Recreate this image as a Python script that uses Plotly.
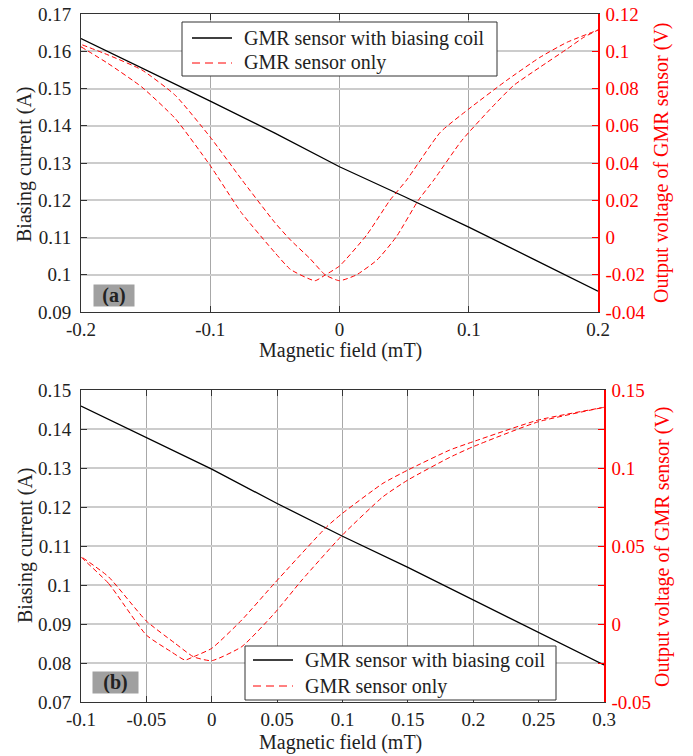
import plotly.graph_objects as go

# ---------------- Panel (a) data ----------------
a_black_x = [-0.2, -0.15, -0.1, -0.05, 0.0, 0.05, 0.1, 0.15, 0.2]
a_black_y = [0.1634, 0.1551, 0.1466, 0.1380, 0.1290, 0.1210, 0.1128, 0.1042, 0.0956]

# branch with minimum near -0.02 mT
a_redL_x = [-0.2, -0.179, -0.153, -0.127, -0.100, -0.076, -0.050, -0.038, -0.019, -0.011,
            0.0, 0.021, 0.039, 0.052, 0.078, 0.100, 0.129, 0.155, 0.176, 0.2]
a_redL_y = [0.1024, 0.0934, 0.0808, 0.0638, 0.0386, 0.0134, -0.0081, -0.0171, -0.0232, -0.0201,
            -0.0153, 0.0013, 0.0200, 0.0309, 0.0565, 0.0690, 0.0842, 0.0967, 0.1048, 0.1114]
# branch with minimum near 0 mT
a_redR_x = [-0.2, -0.179, -0.153, -0.127, -0.100, -0.076, -0.050, -0.038, -0.023, -0.011,
            0.0, 0.013, 0.029, 0.044, 0.061, 0.073, 0.0945, 0.116, 0.1345, 0.155, 0.176, 0.189, 0.2]
a_redR_y = [0.1037, 0.0980, 0.0900, 0.0763, 0.0539, 0.0314, 0.0080, -0.0013, -0.0112, -0.0201,
            -0.0232, -0.0201, -0.0121, 0.0004, 0.0200, 0.0309, 0.0520, 0.0685, 0.0815, 0.0914, 0.1012, 0.1075, 0.1114]

# ---------------- Panel (b) data ----------------
b_black_x = [-0.1, -0.08, -0.05, 0.0, 0.05, 0.1, 0.15, 0.2, 0.25, 0.3]
b_black_y = [0.1459, 0.1427, 0.1379, 0.1297, 0.1209, 0.1125, 0.1045, 0.0962, 0.0878, 0.0795]

b_redL_x = [-0.1, -0.079, -0.05, -0.031, -0.0205, -0.014, 0.0, 0.023, 0.048, 0.088, 0.1, 0.131, 0.15, 0.182, 0.2, 0.25, 0.3]
b_redL_y = [0.0431, 0.0261, -0.0071, -0.0178, -0.0231, -0.0210, -0.0156, 0.0026, 0.0261, 0.0624, 0.0710, 0.0902, 0.0987, 0.1115, 0.1169, 0.1308, 0.1389]
b_redR_x = [-0.1, -0.079, -0.05, -0.028, -0.014, 0.0, 0.023, 0.048, 0.069, 0.1, 0.131, 0.15, 0.182, 0.2, 0.25, 0.3]
b_redR_y = [0.0431, 0.0303, 0.0019, -0.0124, -0.0210, -0.0235, -0.0145, 0.0069, 0.0282, 0.0571, 0.0816, 0.0923, 0.1068, 0.1137, 0.1297, 0.1389]

# ---------------- tick labels ----------------
a_xticks = [-0.2, -0.1, 0.0, 0.1, 0.2]
a_xtext = ["-0.2", "-0.1", "0", "0.1", "0.2"]
a_yticks = [0.09, 0.10, 0.11, 0.12, 0.13, 0.14, 0.15, 0.16, 0.17]
a_ytext = ["0.09", "0.1", "0.11", "0.12", "0.13", "0.14", "0.15", "0.16", "0.17"]
a_y2ticks = [-0.04, -0.02, 0.0, 0.02, 0.04, 0.06, 0.08, 0.10, 0.12]
a_y2text = ["-0.04", "-0.02", "0", "0.02", "0.04", "0.06", "0.08", "0.1", "0.12"]

b_xticks = [-0.1, -0.05, 0.0, 0.05, 0.1, 0.15, 0.2, 0.25, 0.3]
b_xtext = ["-0.1", "-0.05", "0", "0.05", "0.1", "0.15", "0.2", "0.25", "0.3"]
b_yticks = [0.07, 0.08, 0.09, 0.10, 0.11, 0.12, 0.13, 0.14, 0.15]
b_ytext = ["0.07", "0.08", "0.09", "0.1", "0.11", "0.12", "0.13", "0.14", "0.15"]
b_y2ticks = [-0.05, -0.025, 0.0, 0.025, 0.05, 0.075, 0.10, 0.125, 0.15]
b_y2text = ["-0.05", "", "0", "", "0.05", "", "0.1", "", "0.15"]

series_names = ["GMR sensor with biasing coil", "GMR sensor only"]

FONT = "Liberation Serif"
FS = 19        # tick labels
FS_T = 20      # titles / legend
RED = "#ff0000"
DASH = "5px,3px"

# page body has an 8px margin -> figure occupies the rest of the 693x756 window
OFF = 8
W, H = 693 - OFF, 756 - OFF
def px(v):
    return (v - OFF) / W
def py(v):
    return 1 - (v - OFF) / H

fig = go.Figure()

red_line = dict(color=RED, width=1, dash=DASH, shape="spline", smoothing=0.5)

# Panel (a)
fig.add_trace(go.Scatter(x=a_black_x, y=a_black_y, mode="lines", name=series_names[0],
                         line=dict(color="black", width=1.3), xaxis="x", yaxis="y"))
fig.add_trace(go.Scatter(x=a_redL_x + a_redR_x[::-1], y=a_redL_y + a_redR_y[::-1], mode="lines",
                         name=series_names[1], line=red_line, xaxis="x", yaxis="y2"))
# Panel (b)
fig.add_trace(go.Scatter(x=b_black_x, y=b_black_y, mode="lines", name=series_names[0],
                         line=dict(color="black", width=1.3), xaxis="x2", yaxis="y3"))
fig.add_trace(go.Scatter(x=b_redL_x + b_redR_x[::-1], y=b_redL_y + b_redR_y[::-1], mode="lines",
                         name=series_names[1], line=red_line, xaxis="x2", yaxis="y4"))

tickfont = dict(family=FONT, size=FS, color="#222222")
xgrid = "#a8a8a8"
ygrid = "#cccccc"

def xax(dom, rng, tv, tt, anchor):
    return dict(domain=dom, range=rng, tickvals=tv, ticktext=tt, anchor=anchor, automargin=False,
                showline=True, linecolor="#333333", linewidth=1, mirror="ticks",
                ticks="inside", ticklen=6, tickcolor="#333333", ticklabelstandoff=0,
                ticklabeloverflow="allow",
                showgrid=True, gridcolor=xgrid, gridwidth=1, zeroline=False,
                tickfont=tickfont)

def yax(dom, rng, tv, tt, anchor):
    return dict(domain=dom, range=rng, tickvals=tv, ticktext=tt, anchor=anchor, automargin=False,
                showline=True, linecolor="#333333", linewidth=1, mirror=False,
                ticks="inside", ticklen=6, tickcolor="#333333", ticklabelstandoff=5,
                ticklabeloverflow="allow",
                showgrid=True, gridcolor=ygrid, gridwidth=1.5, zeroline=False,
                tickfont=tickfont)

def y2ax(rng, tv, tt, overl, anchor):
    return dict(range=rng, tickvals=tv, ticktext=tt, overlaying=overl, side="right", anchor=anchor,
                automargin=False, ticklabeloverflow="allow", ticklabelstandoff=2,
                showline=True, linecolor=RED, linewidth=1.5,
                ticks="inside", ticklen=6, tickcolor=RED,
                showgrid=False, zeroline=False,
                tickfont=dict(family=FONT, size=FS, color=RED))

fig.update_layout(
    width=W, height=H,
    margin=dict(l=0, r=0, t=0, b=0, autoexpand=False),
    paper_bgcolor="white", plot_bgcolor="white",
    font=dict(family=FONT, size=FS, color="#222222"),
    xaxis=xax([px(81), px(598)], [-0.2, 0.2], a_xticks, a_xtext, "y"),
    yaxis=yax([py(312), py(14)], [0.09, 0.17], a_yticks, a_ytext, "x"),
    yaxis2=y2ax([-0.04, 0.12], a_y2ticks, a_y2text, "y", "x"),
    xaxis2=xax([px(81), px(604)], [-0.1, 0.3], b_xticks, b_xtext, "y3"),
    yaxis3=yax([py(702), py(390)], [0.07, 0.15], b_yticks, b_ytext, "x2"),
    yaxis4=y2ax([-0.05, 0.15], b_y2ticks, b_y2text, "y3", "x2"),
    showlegend=False,
)

# ---------- legends (drawn as boxes with sample lines and real text) ----------
shapes = []
annotations = []
legend_boxes = [
    # (box left, top, right, bottom, row1 y, row2 y, sample x0, sample x1, text x)
    (182, 22, 497, 76, 38, 63, 192, 232, 242),
    (245, 646, 556, 700, 660, 686, 253, 293, 303),
]
for (l, t, r, b, r1, r2, s0, s1, tx) in legend_boxes:
    shapes.append(dict(type="rect", xref="paper", yref="paper", x0=px(l), x1=px(r), y0=py(b), y1=py(t),
                       line=dict(color="#333333", width=1), fillcolor="white", layer="above"))
    shapes.append(dict(type="line", xref="paper", yref="paper", x0=px(s0), x1=px(s1), y0=py(r1), y1=py(r1),
                       line=dict(color="black", width=1.3), layer="above"))
    shapes.append(dict(type="line", xref="paper", yref="paper", x0=px(s0), x1=px(s1), y0=py(r2), y1=py(r2),
                       line=dict(color=RED, width=1, dash="8px,5px"), layer="above"))
    annotations.append(dict(text=series_names[0], x=px(tx), y=py(r1), xref="paper", yref="paper",
                            xanchor="left", yanchor="middle", showarrow=False,
                            font=dict(family=FONT, size=FS_T, color="#222222")))
    annotations.append(dict(text=series_names[1], x=px(tx), y=py(r2), xref="paper", yref="paper",
                            xanchor="left", yanchor="middle", showarrow=False,
                            font=dict(family=FONT, size=FS_T, color="#222222")))

ann_font = dict(family=FONT, size=FS_T, color="#222222")
red_font = dict(family=FONT, size=FS_T, color=RED)
def title_ann(text, x, y, angle, font):
    return dict(text=text, x=px(x), y=py(y), xref="paper", yref="paper", textangle=angle,
                xanchor="center", yanchor="middle", showarrow=False, font=font)

annotations += [
    title_ann("Biasing current (A)", 25, 164, -90, ann_font),
    title_ann("Output voltage of GMR sensor (V)", 661, 163, -90, red_font),
    title_ann("Magnetic field (mT)", 340, 351, 0, ann_font),
    title_ann("Biasing current (A)", 25, 545, -90, ann_font),
    title_ann("Output voltage of GMR sensor (V)", 662, 547, -90, red_font),
    title_ann("Magnetic field (mT)", 340, 742, 0, ann_font),
    dict(text="<b>(a)</b>", x=px(114), y=py(295.5), xref="paper", yref="paper",
         xanchor="center", yanchor="middle",
         showarrow=False, bgcolor="#a0a0a0", width=40, height=21, borderpad=0,
         font=dict(family=FONT, size=FS_T, color="#222222")),
    dict(text="<b>(b)</b>", x=px(115.5), y=py(682.5), xref="paper", yref="paper",
         xanchor="center", yanchor="middle",
         showarrow=False, bgcolor="#a0a0a0", width=45, height=21, borderpad=0,
         font=dict(family=FONT, size=FS_T, color="#222222")),
]
fig.update_layout(shapes=shapes, annotations=annotations)

fig.write_html("out.html")
